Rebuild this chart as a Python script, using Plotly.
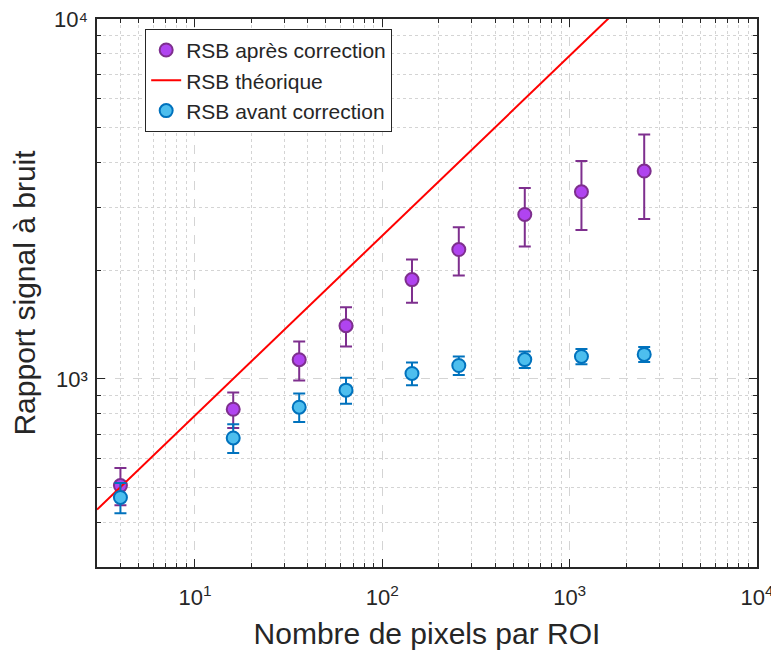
import plotly.graph_objects as go

# Nombre de pixels par ROI
n_pixels = [4, 16, 36, 64, 144, 256, 576, 1156, 2500]

# RSB après correction (moyenne et barre d'erreur)
rsb_apres = [505, 823, 1130, 1405, 1887, 2287, 2863, 3310, 3779]
err_apres = [60, 93, 140, 175, 260, 350, 530, 720, 1000]

# RSB avant correction
rsb_avant = [468, 685, 834, 930, 1035, 1089, 1131, 1154, 1169]
err_avant = [45, 63, 76, 77, 75, 64, 60, 57, 56]

# RSB théorique (droite de pente 1/2 en log-log)
theo_x = [3, 10000]
theo_y = [433, 25000]

x_major = [10, 100, 1000, 10000]
x_major_text = ["10<sup>1</sup>", "10<sup>2</sup>", "10<sup>3</sup>", "10<sup>4</sup>"]
y_major = [1000, 10000]
y_major_text = ["10³", "10⁴"]

x_minor = [3, 4, 5, 6, 7, 8, 9, 20, 30, 40, 50, 60, 70, 80, 90,
           200, 300, 400, 500, 600, 700, 800, 900,
           2000, 3000, 4000, 5000, 6000, 7000, 8000, 9000]
y_minor = [300, 400, 500, 600, 700, 800, 900,
           2000, 3000, 4000, 5000, 6000, 7000, 8000, 9000]

fig = go.Figure()

fig.add_trace(go.Scatter(
    x=n_pixels, y=rsb_apres, mode="markers", name="RSB après correction",
    marker=dict(size=13, color="#B044F0", line=dict(color="#7E2F8E", width=2)),
    error_y=dict(type="data", array=err_apres, visible=True,
                 color="#7E2F8E", thickness=2, width=6)))

fig.add_trace(go.Scatter(
    x=theo_x, y=theo_y, mode="lines", name="RSB théorique",
    line=dict(color="#FF0000", width=2)))

fig.add_trace(go.Scatter(
    x=n_pixels, y=rsb_avant, mode="markers", name="RSB avant correction",
    marker=dict(size=13, color="#4DBEEE", line=dict(color="#0072BD", width=2)),
    error_y=dict(type="data", array=err_avant, visible=True,
                 color="#0072BD", thickness=2, width=6)))

axis_common = dict(
    type="log", showline=True, linecolor="#262626", linewidth=1.5, mirror="ticks",
    ticks="inside", ticklen=8, tickwidth=1.2, tickcolor="#262626",
    showgrid=True, gridcolor="#D4D4D4", griddash="dash", gridwidth=1.2,
    zeroline=False, tickfont=dict(size=22, color="#262626"),
    tickmode="array", automargin=False, ticklabeloverflow="allow",
)

fig.update_xaxes(
    **axis_common, range=[0.477, 4], tickvals=x_major, ticktext=x_major_text,
    ticklabelstandoff=10,
    minor=dict(tickvals=x_minor, ticks="inside", ticklen=4, tickcolor="#262626",
               showgrid=True, gridcolor="#D4D4D4", griddash="dot", gridwidth=1),
    title=dict(text="Nombre de pixels par ROI", font=dict(size=30, color="#262626"), standoff=14))

fig.update_yaxes(
    **axis_common, range=[2.477, 4], tickvals=y_major, ticktext=y_major_text,
    ticklabelstandoff=3,
    minor=dict(tickvals=y_minor, ticks="inside", ticklen=4, tickcolor="#262626",
               showgrid=True, gridcolor="#D4D4D4", griddash="dot", gridwidth=1),
    title=dict(text="Rapport signal à bruit", font=dict(size=30, color="#262626"), standoff=10))

# la page ajoute une marge de 8 px autour de la figure
fig.update_layout(
    width=771, height=652,
    margin=dict(l=89, r=22, t=11, b=93),
    plot_bgcolor="white", paper_bgcolor="white",
    font=dict(family="Liberation Sans, Arial, sans-serif", color="#262626"),
    legend=dict(x=0.073, y=0.982, xanchor="left", yanchor="top",
                bgcolor="white", bordercolor="#262626", borderwidth=1,
                font=dict(size=21, color="#262626"), tracegroupgap=0),
    showlegend=True,
)

fig.write_html("out.html")
